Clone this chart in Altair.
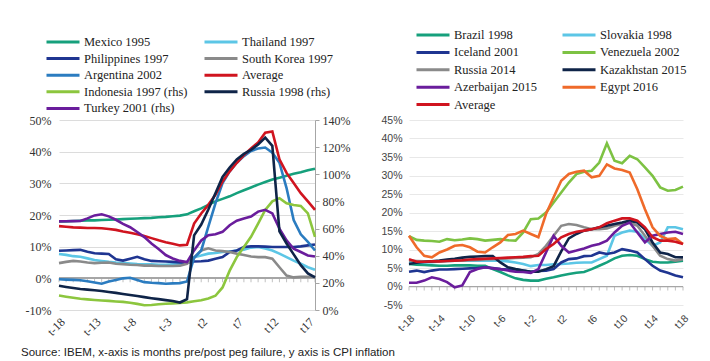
import altair as alt
import pandas as pd

months = list(range(-18, 19))

# ---------------- left panel (1990s / early 2000s) ----------------
mexico_1995 = [18.0, 18.0, 18.1, 18.2, 18.3, 18.3, 18.4, 18.5, 18.6, 18.7, 18.8, 18.9, 19.0, 19.1, 19.3, 19.4, 19.6, 19.8,
               20.2, 21.2, 22.1, 23.2, 24.3, 25.1, 25.9, 26.9, 27.8, 28.7, 29.6, 30.4, 31.2, 31.8, 32.4, 33.0, 33.5, 34.1, 34.6]
thailand_1997 = [7.7, 7.4, 7.0, 6.8, 6.3, 5.8, 5.5, 5.2, 5.0, 4.9, 4.7, 4.5, 4.4, 4.4, 4.3, 4.3, 4.4, 4.5,
                 5.0, 6.7, 7.2, 7.8, 8.0, 8.3, 8.5, 8.8, 9.0, 9.7, 9.9, 9.4, 8.8, 7.8, 6.7, 5.6, 4.6, 3.5, 2.7]
philippines_1997 = [8.7, 8.8, 8.9, 9.0, 8.4, 7.9, 7.8, 7.7, 6.0, 5.6, 6.2, 6.8, 6.0, 5.5, 5.4, 5.3, 5.2, 5.0,
                    4.9, 5.3, 5.4, 5.6, 6.2, 6.7, 8.3, 8.8, 9.9, 10.1, 10.1, 10.0, 9.9, 9.9, 9.9, 9.9, 10.1, 10.4, 10.7]
south_korea_1997 = [4.8, 5.2, 5.5, 5.3, 5.0, 4.8, 4.9, 5.0, 4.6, 4.5, 4.3, 4.2, 4.0, 4.0, 3.9, 3.9, 3.9, 4.0,
                    4.6, 6.5, 8.8, 9.5, 8.8, 8.6, 8.3, 7.8, 7.4, 6.9, 6.7, 6.7, 6.2, 3.5, 0.9, 0.3, 0.5, 0.5, 0.5]
argentina_2002 = [-0.3, -0.4, -0.5, -0.6, -0.9, -1.3, -1.7, -1.0, -0.5, 0.0, 0.2, -0.5, -1.2, -1.4, -1.5, -1.7, -1.6, -1.5,
                  -1.0, 6.5, 8.8, 16.3, 23.7, 30.1, 33.8, 36.5, 38.6, 40.2, 41.0, 41.3, 39.7, 36.5, 28.5, 18.4, 13.9, 11.5, 8.8]
average_left = [16.5, 16.3, 16.1, 16.0, 15.9, 15.9, 15.8, 15.6, 15.3, 14.8, 14.4, 13.9, 13.4, 12.7, 12.0, 11.4, 10.9, 10.4,
                10.6, 17.3, 20.5, 23.2, 26.4, 30.6, 33.8, 36.5, 38.9, 41.0, 42.9, 46.0, 46.4, 37.6, 33.3, 30.1, 26.9, 24.3, 21.6]
# right-hand-side series (values on the 0-140% axis)
indonesia_1997 = [10.7, 9.8, 9.0, 8.3, 7.8, 7.4, 7.0, 6.7, 6.3, 6.0, 5.4, 4.5, 3.5, 3.7, 4.2, 4.6, 4.9, 5.2,
                  5.6, 6.4, 7.2, 8.5, 10.5, 16.6, 29.0, 39.0, 46.4, 53.9, 63.7, 73.7, 80.0, 82.4, 78.6, 77.4, 76.7, 71.2, 53.9]
russia_1998 = [17.9, 17.0, 16.2, 15.5, 15.0, 14.6, 14.0, 13.3, 12.6, 11.8, 11.0, 10.3, 9.5, 8.7, 8.0, 7.3, 6.6, 5.5,
               8.0, 55.0, 63.0, 74.0, 86.0, 98.0, 105.0, 111.0, 115.0, 118.0, 122.0, 127.0, 121.0, 58.0, 49.0, 41.0, 33.0, 27.0, 24.0]
turkey_2001 = [65.3, 65.4, 65.5, 65.6, 67.5, 69.7, 70.5, 69.0, 66.5, 63.5, 61.0, 57.5, 53.7, 49.0, 45.0, 40.5, 38.0, 36.2,
               35.3, 43.9, 51.3, 55.1, 55.8, 57.6, 62.5, 65.8, 67.4, 68.8, 72.5, 73.8, 71.2, 60.0, 51.3, 45.1, 42.7, 40.2, 39.4]

# legend entries listed column by column (left column, then right column)
left_legend_names = ["Mexico 1995", "Philippines 1997", "Argentina 2002", "Indonesia 1997 (rhs)", "Turkey 2001 (rhs)",
                     "Thailand 1997", "South Korea 1997", "Average", "Russia 1998 (rhs)"]
left_colors = ["#16a07c", "#1f3591", "#2b7cc0", "#8cc63e", "#6a1d9c",
               "#5cc6e6", "#8a8a8a", "#d0141f", "#0f2448"]
left_ticks = [-18, -13, -8, -3, 2, 7, 12, 17]
left_y_ticks = [-10, 0, 10, 20, 30, 40, 50]
right_axis_ticks = [0, 20, 40, 60, 80, 100, 120, 140]

# ---------------- right panel (later episodes) ----------------
brazil_1998 = [6.1, 5.9, 5.8, 5.7, 5.6, 5.6, 5.7, 5.7, 5.7, 5.6, 5.6, 4.7, 3.9, 3.0, 2.2, 1.8, 1.6, 1.6,
               2.1, 2.5, 3.0, 3.4, 3.7, 3.9, 4.7, 5.6, 6.5, 7.6, 8.3, 8.5, 8.3, 7.4, 6.7, 6.5, 6.5, 6.7, 7.0]
slovakia_1998 = [6.5, 6.4, 6.5, 6.6, 6.8, 6.9, 7.0, 7.0, 7.0, 7.0, 7.0, 7.0, 7.0, 6.8, 6.5, 6.1, 5.5, 5.8,
                 5.8, 6.0, 6.1, 6.2, 6.4, 6.5, 6.5, 7.4, 8.3, 13.7, 14.6, 15.1, 14.8, 12.8, 11.0, 11.9, 16.0, 16.0, 15.5]
iceland_2001 = [4.0, 4.3, 3.9, 4.3, 4.6, 4.6, 4.7, 4.8, 4.9, 5.0, 5.2, 5.0, 4.7, 4.6, 4.6, 4.3, 4.0, 4.2,
                4.3, 4.7, 6.5, 7.4, 7.6, 8.2, 8.3, 9.2, 8.8, 9.2, 10.1, 9.7, 9.2, 7.4, 5.6, 4.3, 3.7, 3.0, 2.5]
venezuela_2002 = [13.6, 12.6, 12.4, 12.3, 12.1, 12.8, 12.5, 12.7, 13.0, 12.8, 12.4, 12.6, 12.8, 12.5, 12.4, 14.6, 18.2, 18.4,
                  20.0, 22.7, 25.4, 28.1, 30.4, 31.0, 31.3, 33.5, 38.7, 34.0, 33.3, 35.3, 34.4, 32.2, 29.9, 26.8, 25.9, 26.1, 27.0]
russia_2014 = [7.0, 6.9, 6.8, 6.8, 6.8, 6.9, 7.0, 7.0, 7.1, 7.2, 7.3, 7.4, 7.5, 7.6, 7.7, 7.8, 7.9, 8.8,
               11.0, 13.7, 16.4, 16.9, 16.6, 16.0, 15.5, 15.5, 15.7, 16.4, 16.9, 17.3, 16.4, 13.7, 11.0, 8.3, 7.4, 7.0, 7.4]
kazakhstan_2015 = [6.1, 6.4, 6.6, 6.8, 7.0, 7.3, 7.5, 7.8, 8.0, 8.1, 8.2, 8.2, 6.5, 5.2, 4.7, 4.3, 4.0, 4.0,
                   4.7, 5.5, 9.5, 13.0, 14.2, 15.1, 15.5, 16.0, 16.4, 16.9, 17.3, 17.8, 17.3, 15.5, 11.9, 9.2, 8.8, 7.9, 7.9]
azerbaijan_2015 = [1.0, 1.0, 1.6, 2.5, 2.0, 1.2, -0.2, 0.3, 3.9, 4.7, 5.2, 4.9, 4.7, 4.3, 4.0, 3.9, 3.7, 4.7,
                   9.2, 13.7, 11.0, 9.2, 9.7, 10.3, 11.0, 11.5, 12.4, 14.6, 16.4, 17.3, 14.6, 11.9, 13.7, 14.2, 14.6, 14.8, 14.2]
egypt_2016 = [13.7, 10.6, 8.3, 7.9, 9.2, 10.0, 11.0, 11.2, 10.6, 9.4, 9.2, 10.6, 11.9, 13.9, 14.2, 15.1, 14.2, 13.3,
              19.6, 24.1, 28.6, 30.4, 31.0, 31.3, 29.5, 29.9, 33.0, 31.9, 31.5, 30.8, 26.3, 20.9, 16.0, 13.7, 12.8, 13.0, 11.5]
average_right = [7.4, 6.7, 6.7, 6.8, 6.8, 6.9, 7.0, 7.1, 7.3, 7.4, 7.5, 7.6, 7.7, 7.8, 7.9, 8.0, 8.2, 8.3,
                 10.1, 11.5, 13.3, 14.2, 14.8, 15.1, 15.5, 16.0, 17.1, 17.8, 18.4, 18.4, 17.8, 16.0, 13.3, 12.4, 12.4, 12.1, 11.5]

right_legend_names = ["Brazil 1998", "Iceland 2001", "Russia 2014", "Azerbaijan 2015", "Average",
                      "Slovakia 1998", "Venezuela 2002", "Kazakhstan 2015", "Egypt 2016"]
right_colors = ["#16a07c", "#1f3591", "#8a8a8a", "#6a1d9c", "#d0141f",
                "#5cc6e6", "#7dc243", "#0f2448", "#ef6a2a"]
right_ticks = [-18, -14, -10, -6, -2, 2, 6, 10, 14, 18]
right_y_ticks = [-5, 0, 5, 10, 15, 20, 25, 30, 35, 40, 45]

source_text = "Source: IBEM, x-axis is months pre/post peg failure, y axis is CPI inflation"


def long_table(pairs):
    rows = []
    for name, vals in pairs:
        for m, v in zip(months, vals):
            rows.append({"t": m, "value": v, "series": name})
    return pd.DataFrame(rows)


df_lhs = long_table([("Mexico 1995", mexico_1995), ("Thailand 1997", thailand_1997),
                     ("Philippines 1997", philippines_1997), ("South Korea 1997", south_korea_1997),
                     ("Argentina 2002", argentina_2002), ("Average", average_left)])
df_rhs = long_table([("Indonesia 1997 (rhs)", indonesia_1997), ("Turkey 2001 (rhs)", turkey_2001),
                     ("Russia 1998 (rhs)", russia_1998)])
df_right = long_table([("Brazil 1998", brazil_1998), ("Slovakia 1998", slovakia_1998),
                       ("Iceland 2001", iceland_2001), ("Russia 2014", russia_2014),
                       ("Kazakhstan 2015", kazakhstan_2015), ("Azerbaijan 2015", azerbaijan_2015),
                       ("Venezuela 2002", venezuela_2002), ("Egypt 2016", egypt_2016),
                       ("Average", average_right)])
df_months = pd.DataFrame({"t": months})

SERIF = "Liberation Serif"
SANS = "Liberation Sans"
LINE_W = 2.6
ZERO_COL = "#a6a6a6"

xscale = alt.Scale(domain=[-18, 18], nice=False, zero=False)

# ---------------- left panel ----------------
left_xaxis = alt.Axis(values=left_ticks, labelExpr="'t' + datum.value", labelAngle=315, labelOverlap=False,
                      domain=False, ticks=False, grid=False, title=None,
                      labelFont=SERIF, labelFontSize=12, labelColor="#333", labelPadding=6)
left_yscale = alt.Scale(domain=[-10, 50], nice=False)
left_yaxis = alt.Axis(values=left_y_ticks, labelExpr="datum.value + '%'", domain=False, ticks=False,
                      grid=True, gridColor="#dcdcdc", gridWidth=1, title=None, labelFont=SERIF, labelFontSize=12,
                      labelColor="#333", labelPadding=8, labelOverlap=False)
left_legend = alt.Legend(orient="none", legendX=-14, legendY=-85, columns=2, title=None,
                         symbolType="stroke", symbolSize=1089, symbolStrokeWidth=3, clipHeight=14,
                         labelFont=SERIF, labelFontSize=12.5, labelColor="#222", labelOffset=3,
                         rowPadding=2.6, columnPadding=15, padding=0, labelLimit=300)
left_color = alt.Color("series:N", scale=alt.Scale(domain=left_legend_names, range=left_colors),
                       legend=left_legend, sort=left_legend_names)

lhs_lines = alt.Chart(df_lhs).mark_line(strokeWidth=LINE_W).encode(
    x=alt.X("t:Q", scale=xscale, axis=left_xaxis),
    y=alt.Y("value:Q", scale=left_yscale, axis=left_yaxis),
    color=left_color,
)
lhs_zero = alt.Chart(df_months).mark_rule(color=ZERO_COL, strokeWidth=1).encode(
    y=alt.YDatum(0, scale=left_yscale, axis=left_yaxis))
lhs_zero_ticks = alt.Chart(df_months).mark_tick(orient="vertical", size=4, thickness=1,
                                                color=ZERO_COL, yOffset=2).encode(
    x=alt.X("t:Q", scale=xscale, axis=left_xaxis),
    y=alt.YDatum(0, scale=left_yscale, axis=left_yaxis))
rhs_lines = alt.Chart(df_rhs).mark_line(strokeWidth=LINE_W).encode(
    x=alt.X("t:Q", scale=xscale, axis=left_xaxis),
    y=alt.Y("value:Q", scale=alt.Scale(domain=[0, 140], nice=False),
            axis=alt.Axis(orient="right", values=right_axis_ticks, labelExpr="datum.value + '%'",
                          domain=True, domainColor=ZERO_COL, ticks=True, tickColor=ZERO_COL, tickSize=4,
                          grid=False, title=None, labelFont=SERIF, labelFontSize=12, labelColor="#333",
                          labelPadding=3, labelOverlap=False)),
    color=left_color,
)

left_panel = alt.layer(
    alt.layer(lhs_zero, lhs_zero_ticks, lhs_lines),
    rhs_lines,
).resolve_scale(y="independent").properties(width=256, height=190)

# ---------------- right panel ----------------
right_xaxis = alt.Axis(values=right_ticks, labelExpr="'t' + datum.value", labelAngle=315, labelOverlap=False,
                       domain=False, ticks=False, grid=False, title=None,
                       labelFont=SANS, labelFontSize=10.5, labelColor="#444", labelPadding=8)
right_yscale = alt.Scale(domain=[-5, 45], nice=False)
right_yaxis = alt.Axis(values=right_y_ticks, labelExpr="datum.value + '%'", domain=False, ticks=False,
                       grid=True, gridColor="#e8e8e8", gridWidth=1, title=None, labelFont=SANS,
                       labelFontSize=10.5, labelColor="#444", labelPadding=7, labelOverlap=False)
right_legend = alt.Legend(orient="none", legendX=6, legendY=-92, columns=2, title=None,
                          symbolType="stroke", symbolSize=1089, symbolStrokeWidth=3, clipHeight=14,
                          labelFont=SERIF, labelFontSize=12.5, labelColor="#222", labelOffset=3,
                          rowPadding=3.4, columnPadding=24, padding=0, labelLimit=300)
right_color = alt.Color("series:N", scale=alt.Scale(domain=right_legend_names, range=right_colors),
                        legend=right_legend, sort=right_legend_names)

right_lines = alt.Chart(df_right).mark_line(strokeWidth=LINE_W).encode(
    x=alt.X("t:Q", scale=xscale, axis=right_xaxis),
    y=alt.Y("value:Q", scale=right_yscale, axis=right_yaxis),
    color=right_color,
)
right_zero = alt.Chart(df_months).mark_rule(color=ZERO_COL, strokeWidth=1).encode(
    y=alt.YDatum(0, scale=right_yscale, axis=right_yaxis))
right_zero_ticks = alt.Chart(df_months).mark_tick(orient="vertical", size=4, thickness=1,
                                                  color=ZERO_COL, yOffset=2).encode(
    x=alt.X("t:Q", scale=xscale, axis=right_xaxis),
    y=alt.YDatum(0, scale=right_yscale, axis=right_yaxis))

right_panel = alt.layer(right_zero, right_zero_ticks, right_lines).properties(width=274, height=185)

chart = alt.hconcat(left_panel, right_panel, spacing=94, bounds="flush").resolve_scale(
    color="independent", x="independent", y="independent"
).resolve_legend(color="independent").properties(
    padding={"left": 13, "top": 20, "right": 5, "bottom": 5},
    title=alt.TitleParams(source_text, orient="bottom", anchor="start", font=SANS, fontSize=11.5,
                          fontWeight="normal", color="#222", offset=10, dx=-4),
).configure_view(stroke=None).configure_axis(labelOverlap=False)

chart.save("out.html", embed_options={"renderer": "svg", "actions": False})
